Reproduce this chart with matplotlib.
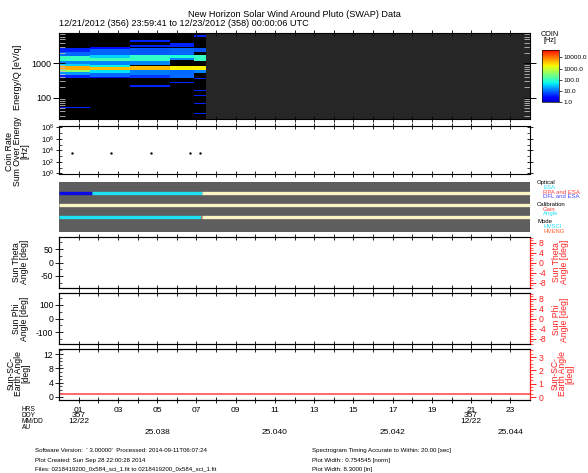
import numpy as np
import matplotlib
matplotlib.use('Agg')
import matplotlib.pyplot as plt
from matplotlib.colors import LogNorm, ListedColormap
from matplotlib.ticker import FixedLocator, MultipleLocator, NullFormatter, FixedFormatter, LogLocator
from matplotlib import cm, transforms

plt.rcParams['font.family'] = ['Liberation Sans', 'DejaVu Sans']
plt.rcParams['mathtext.fontset'] = 'custom'
plt.rcParams['mathtext.rm'] = 'Liberation Sans'
plt.rcParams['mathtext.it'] = 'Liberation Sans'
plt.rcParams['axes.linewidth'] = 0.8
plt.rcParams['axes.unicode_minus'] = False

# ---------------- data ----------------
title_line1 = "New Horizon Solar Wind Around Pluto (SWAP) Data"
title_line2 = "12/21/2012 (356) 23:59:41 to 12/23/2012 (358) 00:00:06 UTC"

# spectrogram time blocks (hours after 12/22 00:00 UTC)
spec_block_start = [0.0, 1.6, 3.6, 5.65, 6.9]
spec_block_end = [1.6, 3.6, 5.65, 6.9, 7.5]
spec_data_end = 7.5
# energy bands per block: (E_low [eV/q], E_high [eV/q], coincidence rate [Hz])
spec_bands_b1 = [(2180, 2740, 4), (1630, 2180, 10), (1167, 1630, 105), (935, 1167, 14),
                 (818, 935, 35), (625, 818, 4800), (547, 625, 400), (456, 547, 18),
                 (366, 456, 4), (49, 54, 4)]
spec_bands_b2 = [(2610, 3050, 3), (1745, 2610, 9), (1400, 1745, 35), (1167, 1400, 120),
                 (900, 1167, 14), (790, 900, 50), (625, 790, 4200), (520, 625, 45),
                 (410, 520, 10), (366, 410, 3)]
spec_bands_b3 = [(4260, 4780, 4), (3050, 3420, 4), (1745, 2740, 8), (1167, 1745, 90),
                 (900, 1167, 14), (625, 818, 4200), (456, 625, 12), (366, 456, 5),
                 (208, 233, 4)]
spec_bands_b4 = [(3050, 3830, 4), (1745, 2740, 9), (1400, 1745, 70), (1280, 1400, 14),
                 (625, 818, 2000), (366, 625, 10), (261, 291, 4)]
spec_bands_b5 = [(6000, 6680, 4), (2180, 2740, 7), (1167, 1745, 100), (625, 818, 2000),
                 (520, 625, 14), (345, 366, 4), (160, 167, 4), (112, 119, 4),
                 (65, 68, 4), (33, 35, 4)]
spec_bands = [spec_bands_b1, spec_bands_b2, spec_bands_b3, spec_bands_b4, spec_bands_b5]
energy_ticks = [100, 1000]
energy_tick_labels = ['100', '1000']
colorbar_ticks = [1, 10, 100, 1000, 10000]
colorbar_tick_labels = ['1.0', '10.0', '100.0', '1000.0', '10000.0']

# coincidence rate summed over energy
coin_rate_times = [0.66, 2.65, 4.69, 6.68, 7.19]
coin_rate_values = [3500, 3500, 3500, 3500, 3500]
coin_ticks = [1e0, 1e2, 1e4, 1e6, 1e8]
coin_tick_labels = ['$10^{0}$', '$10^{2}$', '$10^{4}$', '$10^{6}$', '$10^{8}$']

# instrument state tracks: (start hour, end hour, state)
optical_segments = [(0.0, 1.67, 'DFL and ESA'), (1.67, 7.27, 'ESA'), (7.27, 24.0, 'none')]
calibration_segments = [(0.0, 24.0, 'none')]
mode_segments = [(0.0, 7.22, 'HVSCI'), (7.22, 7.28, 'HVENG'), (7.28, 24.0, 'none')]

# Sun-SC-Earth angle (deg)
sse_times = [0.0, 24.0]
sse_angle = [0.2, 0.2]

# time axis labels
hour_ticks = list(range(1, 24))
hrs_positions = [1, 3, 5, 7, 9, 11, 13, 15, 17, 19, 21, 23]
hrs_labels = ['01', '03', '05', '07', '09', '11', '13', '15', '17', '19', '21', '23']
doy_positions = [1, 21]
doy_labels = ['357', '357']
mmdd_positions = [1, 21]
mmdd_labels = ['12/22', '12/22']
au_positions = [5, 11, 17, 23]
au_labels = ['25.038', '25.040', '25.042', '25.044']

footer_left = ["Software Version:  ' 3.00000'  Processed: 2014-09-11T06:07:24",
               "Plot Created: Sun Sep 28 22:00:28 2014",
               "Files: 0218419200_0x584_sci_1.fit to 0218419200_0x584_sci_1.fit"]
footer_right = ["Spectrogram Timing Accurate to Within: 20.00 [sec]",
                "Plot Width:: 0.754545 [norm]",
                "Plot Width: 8.3000 [in]"]

# ---------------- figure ----------------
W, H = 588, 473
fig = plt.figure(figsize=(W / 100, H / 100), dpi=100)


def prect(left, top, right, bottom):
    return [left / W, 1 - bottom / H, (right - left) / W, (bottom - top) / H]


def fx(x):
    return x / W


def fy(y):
    return 1 - y / H


X0, X1 = 59, 530
ax1 = fig.add_axes(prect(X0, 33, X1, 119.5))
ax2 = fig.add_axes(prect(X0, 126, X1, 174))
ax3 = fig.add_axes(prect(X0, 182, X1, 232))
ax4 = fig.add_axes(prect(X0, 237, X1, 288))
ax5 = fig.add_axes(prect(X0, 293, X1, 344))
ax6 = fig.add_axes(prect(X0, 349, X1, 400))


def style_time_axis(ax):
    ax.set_xlim(0, 24)
    ax.xaxis.set_major_locator(FixedLocator(hour_ticks))
    ax.tick_params(axis='x', which='both', top=True, bottom=True, direction='inout',
                   length=4, width=0.6, labelbottom=False, labeltop=False)


jet = matplotlib.colormaps['jet']
cmap = ListedColormap(jet(np.linspace(0.05, 0.9, 256)))
norm = LogNorm(vmin=1.0, vmax=4.6e4)

# ---- panel 1: spectrogram ----
ax1.set_facecolor('#262626')
ax1.set_yscale('log')
ax1.set_ylim(23, 7600)
ax1.axvspan(0, spec_data_end, color='black', lw=0)
for t0, t1, bands in zip(spec_block_start, spec_block_end, spec_bands):
    for elo, ehi, rate in bands:
        ax1.bar(t0, ehi - elo, width=t1 - t0, bottom=elo, align='edge',
                color=cmap(norm(rate)), linewidth=0)
style_time_axis(ax1)
ax1.yaxis.set_major_locator(FixedLocator(energy_ticks))
ax1.yaxis.set_major_formatter(FixedFormatter(energy_tick_labels))
ax1.yaxis.set_minor_locator(LogLocator(base=10, subs=np.arange(2, 10)))
ax1.yaxis.set_minor_formatter(NullFormatter())
ax1.tick_params(axis='y', which='major', left=True, right=True, direction='inout',
                length=9, width=0.7, labelsize=6.5, pad=1)
ax1.tick_params(axis='y', which='minor', left=True, right=True, direction='in',
                length=4.5, width=0.6, color='0.75')

# colorbar
cax = fig.add_axes(prect(541.7, 50, 559, 102.3))
sm = cm.ScalarMappable(norm=norm, cmap=cmap)
cb = fig.colorbar(sm, cax=cax)
cb.set_ticks(colorbar_ticks)
cb.set_ticklabels(colorbar_tick_labels)
cb.ax.yaxis.set_minor_formatter(NullFormatter())
cb.ax.yaxis.set_minor_locator(FixedLocator([]))
cb.ax.tick_params(labelsize=4.6, length=2, width=0.5, pad=1)
cb.outline.set_linewidth(0.5)
fig.text(fx(550), fy(37.5), "COIN\n[Hz]", fontsize=5.2, ha='center', va='center',
         linespacing=0.8)

# ---- panel 2: coin rate ----
ax2.set_yscale('log')
ax2.set_ylim(0.8, 1.6e8)
ax2.plot(coin_rate_times, coin_rate_values, linestyle='none', marker='o',
         markersize=0.7, color='black')
style_time_axis(ax2)
ax2.yaxis.set_major_locator(FixedLocator(coin_ticks))
ax2.yaxis.set_major_formatter(FixedFormatter(coin_tick_labels))
ax2.yaxis.set_minor_locator(FixedLocator([1e1, 1e3, 1e5, 1e7]))
ax2.yaxis.set_minor_formatter(NullFormatter())
ax2.tick_params(axis='y', which='major', left=True, right=True, direction='inout',
                length=5, width=0.6, labelsize=5.3, pad=1)
ax2.tick_params(axis='y', which='minor', left=True, right=True, direction='in',
                length=2.5, width=0.5)

# ---- panel 3: state tracks ----
state_colors = {'ESA': '#1ee0f5', 'RPA and ESA': '#ff4040', 'DFL and ESA': '#0a0ae6',
                'Gain': '#ff4040', 'Angle': '#1ee0f5', 'HVSCI': '#1ee0f5',
                'HVENG': '#ff5a2a', 'none': '#fbf5c3'}
ax3.set_facecolor('#5e5e5e')
ax3.set_xlim(0, 24)
ax3.set_ylim(0, 1)
for row_y, segs in zip([0.79, 0.535, 0.29],
                       [optical_segments, calibration_segments, mode_segments]):
    for s0, s1, state in segs:
        ax3.hlines(row_y, s0, s1, color=state_colors[state], lw=2.4)
for sp in ax3.spines.values():
    sp.set_visible(False)
ax3.set_xticks([])
ax3.set_yticks([])

legend_items = [("Optical", 'black', 537, 182.3), ("ESA", state_colors['ESA'], 543, 187.2),
                ("RPA and ESA", state_colors['RPA and ESA'], 543, 192.0),
                ("DFL and ESA", '#4a4aff', 543, 196.8),
                ("Calibration", 'black', 537, 204.2), ("Gain", state_colors['Gain'], 543, 209.0),
                ("Angle", state_colors['Angle'], 543, 213.8),
                ("Mode", 'black', 537, 221.8), ("HVSCI", state_colors['HVSCI'], 543, 226.6),
                ("HVENG", state_colors['HVENG'], 543, 231.4)]
for txt, col, px, py in legend_items:
    fig.text(fx(px), fy(py), txt, color=col, fontsize=4.3, ha='left', va='center')


# ---- panels 4-6: angles ----
def style_angle_axes(ax, ylim, majors, minor_step, rlim, rmajors, rminor_step):
    style_time_axis(ax)
    ax.set_ylim(*ylim)
    ax.yaxis.set_major_locator(FixedLocator(majors))
    ax.yaxis.set_minor_locator(MultipleLocator(minor_step))
    ax.tick_params(axis='y', which='major', direction='inout', length=6, width=0.6,
                   labelsize=6.2, pad=1)
    ax.tick_params(axis='y', which='minor', direction='in', length=2.5, width=0.5)
    axr = ax.twinx()
    axr.set_ylim(*rlim)
    axr.yaxis.set_major_locator(FixedLocator(rmajors))
    axr.yaxis.set_minor_locator(MultipleLocator(rminor_step))
    axr.tick_params(axis='y', which='major', colors='#ff2020', direction='out', length=4,
                    width=0.7, labelsize=6.2, pad=2)
    axr.tick_params(axis='y', which='minor', colors='#ff2020', direction='out', length=2,
                    width=0.5)
    axr.spines['right'].set_color('#ff2020')
    axr.spines['right'].set_linewidth(0.9)
    ax.spines['right'].set_visible(False)
    return axr


ax4r = style_angle_axes(ax4, (-95, 95), [-50, 0, 50], 25, (-10.2, 10.2), [-8, -4, 0, 4, 8], 1)
ax5r = style_angle_axes(ax5, (-185, 185), [-100, 0, 100], 50, (-10.2, 10.2), [-8, -4, 0, 4, 8], 1)
ax6r = style_angle_axes(ax6, (-0.84, 13.4), [0, 4, 8, 12], 1, (-0.22, 3.6), [0, 1, 2, 3], 0.25)
ax6r.plot(sse_times, sse_angle, color='#ff5050', lw=1.2)
ax6r.set_xlim(0, 24)

# ---- y labels ----
left_labels = [("Energy/Q [eV/q]", 17.5, 77, 6.6),
               ("Coin Rate\nSum Over Energy\n[Hz]", 17.5, 151, 6.3),
               ("Sun Theta\nAngle [deg]", 20.5, 262, 6.2),
               ("Sun Phi\nAngle [deg]", 20.5, 319, 6.2),
               ("Sun-SC-\nEarth Angle\n[deg]", 18.5, 373, 6.2)]
for txt, px, py, fs in left_labels:
    fig.text(fx(px), fy(py), txt, rotation=90, fontsize=fs, ha='center', va='center',
             multialignment='center', linespacing=0.8)
right_labels = [("Sun Theta\nAngle [deg]", 560.5, 262),
                ("Sun Phi\nAngle [deg]", 560.5, 319.5),
                ("Sun-SC-\nEarth Angle\n[deg]", 562.5, 374)]
for txt, px, py in right_labels:
    fig.text(fx(px), fy(py), txt, rotation=90, fontsize=6.2, ha='center', va='center',
             multialignment='center', linespacing=0.8, color='#ff2020')

# ---- titles ----
fig.text(0.5, fy(14.5), title_line1, fontsize=6.6, ha='center', va='center')
fig.text(fx(59), fy(24), title_line2, fontsize=6.6, ha='left', va='center')

# ---- time axis annotation rows ----
tr = transforms.blended_transform_factory(ax6.transData, fig.transFigure)
for pos, lab in zip(hrs_positions, hrs_labels):
    fig.text(pos, fy(410), lab, transform=tr, fontsize=6, ha='center', va='center')
for pos, lab in zip(doy_positions, doy_labels):
    fig.text(pos, fy(415.8), lab, transform=tr, fontsize=6, ha='center', va='center')
for pos, lab in zip(mmdd_positions, mmdd_labels):
    fig.text(pos, fy(421.6), lab, transform=tr, fontsize=6, ha='center', va='center')
for pos, lab in zip(au_positions, au_labels):
    fig.text(pos, fy(432), lab, transform=tr, fontsize=6, ha='center', va='center')
for lab, py in [("HRS", 409.6), ("DOY", 415.4), ("MM/DD", 421.2), ("AU", 427.0)]:
    fig.text(fx(22), fy(py), lab, fontsize=4.7, ha='left', va='center')

# ---- footers ----
for i, line in enumerate(footer_left):
    fig.text(fx(35), fy(450.7 + 9.3 * i), line, fontsize=4.4, ha='left', va='center')
for i, line in enumerate(footer_right):
    fig.text(fx(311.5), fy(450.7 + 9.3 * i), line, fontsize=4.4, ha='left', va='center')

fig.savefig('out.png', dpi=100)
